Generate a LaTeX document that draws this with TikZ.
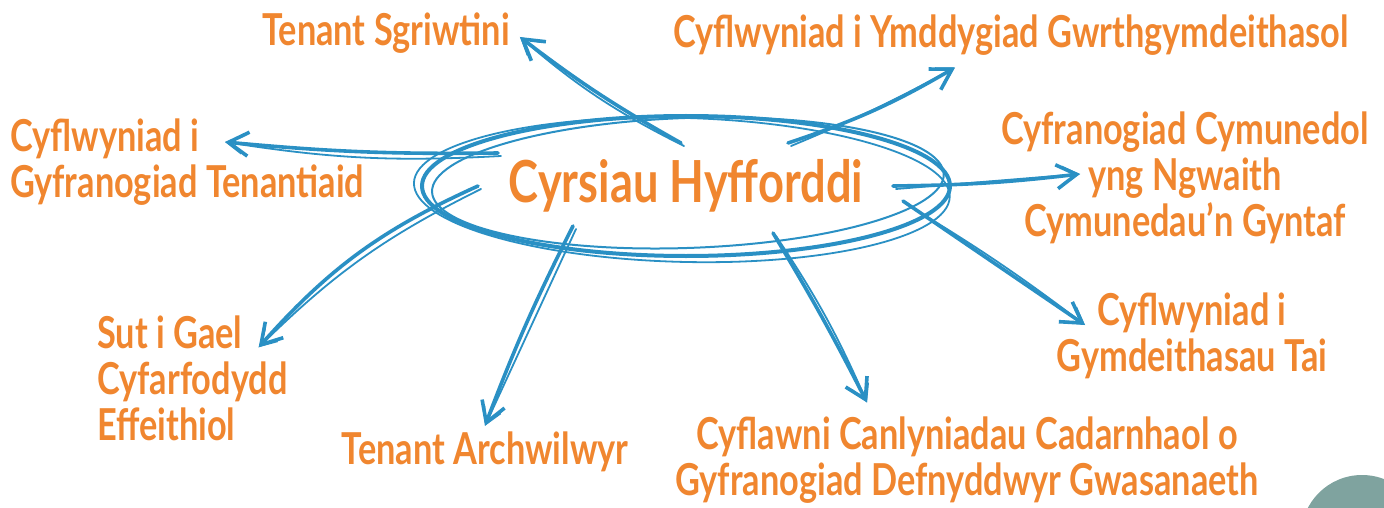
\documentclass[tikz,border=0pt]{standalone}
\usepackage{fontspec}
\setmainfont{Lato}[FakeStretch=0.78]
\usetikzlibrary{arrows.meta,calc,shapes.geometric,positioning}
\definecolor{skorange}{HTML}{F0862F}
\definecolor{skblue}{HTML}{2A90C4}
\definecolor{skteal}{HTML}{7FA39F}

\begin{document}
\begin{tikzpicture}[x=1pt,y=-1pt,
  topic/.style={text=skorange,font=\bfseries\fontsize{44}{46}\selectfont,inner sep=6pt},
  hubtext/.style={text=skorange,font=\bfseries\fontsize{58}{60}\selectfont},
  hubline/.style={draw=skblue,line width=4pt},
  sketch/.style={draw=skblue,line width=3.6pt,line cap=round,
    -{Straight Barb[length=20pt,width=24pt,line width=3.6pt]}},
  sketch thin/.style={draw=skblue,line width=1.8pt,line cap=round,
    -{Straight Barb[length=16pt,width=18pt,line width=1.8pt]}}]
\useasboundingbox (0,0) rectangle (1384,508);
% corner disc
\fill[skteal] (1362,536) circle (61pt);
% central topic, sketched ellipse
\node[hubtext] (hub) at (686,186) {Cyrsiau Hyfforddi};
\draw[hubline] (hub.center) ellipse [x radius=264, y radius=70];
\draw[hubline,line width=2pt,rotate around={2:(hub.center)}] ($(hub.center)+(2,-3)$) ellipse [x radius=256, y radius=65];
\draw[hubline,line width=1.8pt,rotate around={-1.5:(hub.center)}] ($(hub.center)+(-4,4)$) ellipse [x radius=268, y radius=72];
% outer topics
\node[topic] (sgriwtini) at (386,33) {Tenant Sgriwtini};
\node[topic] (ymdd) at (1011,35) {Cyflwyniad i Ymddygiad Gwrthgymdeithasol};
\node[topic,align=left,anchor=west] (tenantiaid) at (4,162) {Cyflwyniad i\\Gyfranogiad Tenantiaid};
\node[topic,align=center] (cymunedol) at (1185,178) {Cyfranogiad Cymunedol\\yng Ngwaith\\Cymunedau'n Gyntaf};
\node[topic,align=center] (tai) at (1192,336) {Cyflwyniad i\\Gymdeithasau Tai};
\node[topic,align=center] (cyflawni) at (967,460) {Cyflawni Canlyniadau Cadarnhaol o\\Gyfranogiad Defnyddwyr Gwasanaeth};
\node[topic] (archwilwyr) at (485,452) {Tenant Archwilwyr};
\node[topic,align=left,anchor=west] (effeithiol) at (91,378) {Sut i Gael\\Cyfarfodydd\\Effeithiol};
% arrow tails inside the ellipse
\coordinate (t-sgr) at ($(hub.center)+(-5,-43)$);
\coordinate (t-ymd) at ($(hub.center)+(102,-43)$);
\coordinate (t-ten) at ($(hub.center)+(-188,-33)$);
\coordinate (t-cym) at ($(hub.center)+(207,0)$);
\coordinate (t-tai) at ($(hub.center)+(217,15)$);
\coordinate (t-cyf) at ($(hub.center)+(87,47)$);
\coordinate (t-arc) at ($(hub.center)+(-113,40)$);
\coordinate (t-eff) at ($(hub.center)+(-208,0)$);
% arrow tips beside the topics
\coordinate (h-sgr) at ($(sgriwtini.east)+(4,4)$);
\coordinate (h-ymd) at ($(ymdd.south)+(-56,6)$);
\coordinate (h-ten) at ($(tenantiaid.west)+(221,-20)$);
\coordinate (h-cym) at ($(cymunedol.center)+(-105,-4)$);
\coordinate (h-tai) at ($(tai.center)+(-107,-11)$);
\coordinate (h-cyf) at ($(cyflawni.north)+(-100,-8)$);
\coordinate (h-arc) at (archwilwyr.north);
\coordinate (h-eff) at ($(effeithiol.north east)+(-35,38)$);
% connectors, each stroked twice
\foreach \a/\b in {sgr/4,ymd/-6,ten/3,cym/-3,tai/0,cyf/2,arc/-3,eff/-12}{
  \draw[sketch] (t-\a) to[bend left=\b] (h-\a);
  \draw[sketch thin] ($(t-\a)+(3,3)$) to[bend left=\b+3] (h-\a);
}
\end{tikzpicture}
\end{document}
